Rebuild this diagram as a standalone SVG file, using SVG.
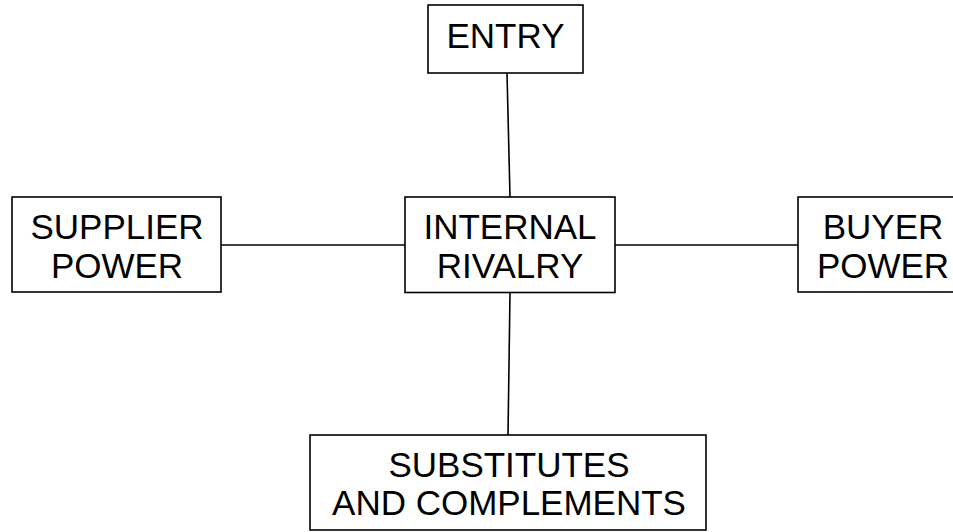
<svg xmlns="http://www.w3.org/2000/svg" width="953" height="532" viewBox="0 0 953 532">
<style>
.box{fill:#fff;stroke:#000;stroke-width:1.6}
.t{font-family:"Liberation Sans",Arial,sans-serif;font-size:35px;fill:#000;text-anchor:middle}
.c{stroke:#000;stroke-width:1.6;fill:none}
</style>
<rect width="953" height="532" fill="#fff"/>
<g id="connectors">
<line class="c" x1="507" y1="73" x2="510" y2="197"/>
<line class="c" x1="510" y1="293" x2="508" y2="435"/>
<line class="c" x1="221" y1="245" x2="405" y2="245"/>
<line class="c" x1="615" y1="245" x2="798" y2="245"/>
</g>
<g id="entry">
<rect class="box" x="428" y="5" width="155" height="68"/>
<text class="t" x="505.5" y="47.5">ENTRY</text>
</g>
<g id="supplier">
<rect class="box" x="12" y="197" width="209" height="95"/>
<text class="t" x="117" y="239">SUPPLIER</text>
<text class="t" x="117" y="278">POWER</text>
</g>
<g id="internal">
<rect class="box" x="405" y="197" width="210" height="95.5"/>
<text class="t" x="510" y="239">INTERNAL</text>
<text class="t" x="510" y="278">RIVALRY</text>
</g>
<g id="buyer">
<rect class="box" x="798" y="197" width="170" height="95"/>
<text class="t" x="883" y="239">BUYER</text>
<text class="t" x="883" y="278">POWER</text>
</g>
<g id="substitutes">
<rect class="box" x="310" y="435" width="396" height="95"/>
<text class="t" x="509" y="476.5">SUBSTITUTES</text>
<text class="t" x="509" y="515">AND COMPLEMENTS</text>
</g>
</svg>
